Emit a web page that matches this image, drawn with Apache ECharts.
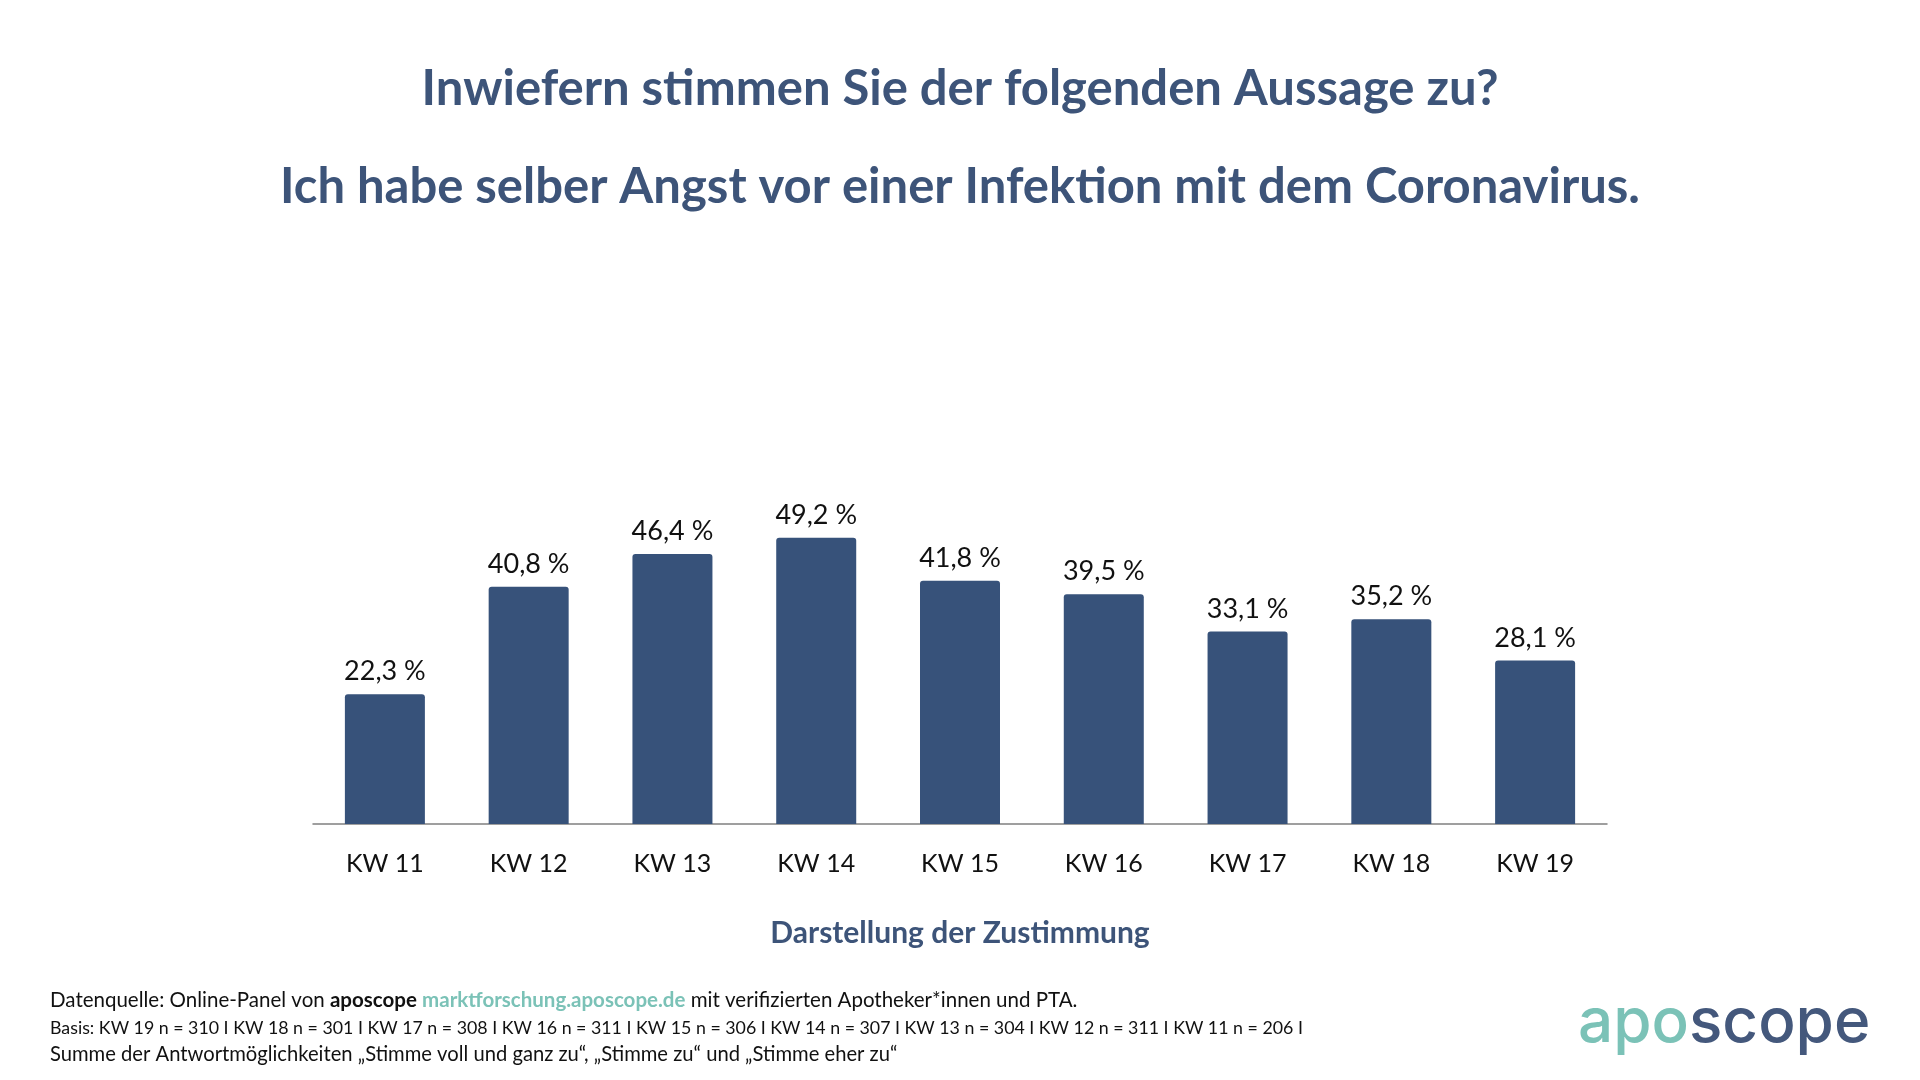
<!DOCTYPE html>
<html>
<head>
<meta charset="utf-8">
<script src="https://cdn.jsdelivr.net/npm/echarts@6/dist/echarts.min.js"></script>
<style>
html,body{margin:0;padding:0;background:#fff;}
#chart{width:1920px;height:1080px;}
</style>
</head>
<body>
<div id="chart"></div>
<script>
const categories = ['KW 11','KW 12','KW 13','KW 14','KW 15','KW 16','KW 17','KW 18','KW 19'];
const values = [22.3, 40.8, 46.4, 49.2, 41.8, 39.5, 33.1, 35.2, 28.1];
const titleLine1 = 'Inwiefern stimmen Sie der folgenden Aussage zu?';
const titleLine2 = 'Ich habe selber Angst vor einer Infektion mit dem Coronavirus.';
const axisTitle = 'Darstellung der Zustimmung';
const footerBasis = 'Basis: KW 19 n = 310 I KW 18 n = 301 I KW 17 n = 308 I KW 16 n = 311 I KW 15 n = 306 I KW 14 n = 307 I KW 13 n = 304 I KW 12 n = 311 I KW 11 n = 206 I';
const footerSumme = 'Summe der Antwortmöglichkeiten „Stimme voll und ganz zu“, „Stimme zu“ und „Stimme eher zu“';

const NAVY = '#37527A';
const TITLE = '#3D5479';
const TEAL = '#7BC2B7';
const FONT = 'Lato, "Noto Sans", sans-serif';

const chart = echarts.init(document.getElementById('chart'));
chart.setOption({
  backgroundColor: '#fff',
  animation: false,
  textStyle: { fontFamily: FONT },
  title: [
    { text: titleLine1, left: 'center', top: 60, textStyle: { fontFamily: FONT, fontWeight: 'bold', fontSize: 49, color: TITLE } },
    { text: titleLine2, left: 'center', top: 158, textStyle: { fontFamily: FONT, fontWeight: 'bold', fontSize: 49, color: TITLE } },
    { text: axisTitle, left: 'center', top: 913, textStyle: { fontFamily: FONT, fontWeight: 'bold', fontSize: 30, color: TITLE } }
  ],
  grid: { left: 313, width: 1294, top: 475, height: 349 },
  xAxis: {
    type: 'category',
    data: categories,
    axisLine: { lineStyle: { color: '#808080', width: 1.5 } },
    axisTick: { show: false },
    axisLabel: { color: '#111', fontSize: 25, margin: 27, fontFamily: FONT }
  },
  yAxis: {
    type: 'value', min: 0, max: 60, interval: 10,
    show: false, splitLine: { show: false }
  },
  series: [{
    type: 'bar',
    data: values,
    barWidth: 80,
    itemStyle: { color: NAVY, borderRadius: [3,3,0,0] },
    label: {
      show: true, position: 'top', distance: 9,
      color: '#111', fontSize: 27, fontFamily: FONT,
      formatter: p => p.value.toFixed(1).replace('.', ',') + ' %'
    }
  }],
  graphic: [
    {
      type: 'text', left: 50, top: 990,
      style: {
        text: 'Datenquelle: Online-Panel von {b|aposcope} {t|marktforschung.aposcope.de} mit verifizierten Apotheker*innen und PTA.',
        fontFamily: FONT, fontSize: 20.5, fill: '#111',
        rich: {
          b: { fontFamily: FONT, fontSize: 20.5, fontWeight: 'bold', fill: '#111' },
          t: { fontFamily: FONT, fontSize: 20.5, fontWeight: 'bold', fill: TEAL }
        }
      }
    },
    { type: 'text', left: 50, top: 1019, style: { text: footerBasis, fontFamily: FONT, fontSize: 17.8, fill: '#111' } },
    { type: 'text', left: 50, top: 1044, style: { text: footerSumme, fontFamily: FONT, fontSize: 20.2, fill: '#111' } },
    {
      type: 'text', left: 1578, top: 992,
      style: {
        text: '{a|apo}{s|scope}',
        rich: {
          a: { fontFamily: 'Inter, Lato, sans-serif', fontSize: 62, fontWeight: 500, fill: TEAL },
          s: { fontFamily: 'Inter, Lato, sans-serif', fontSize: 62, fontWeight: 500, fill: '#44587C' }
        }
      }
    }
  ]
});
</script>
</body>
</html>
